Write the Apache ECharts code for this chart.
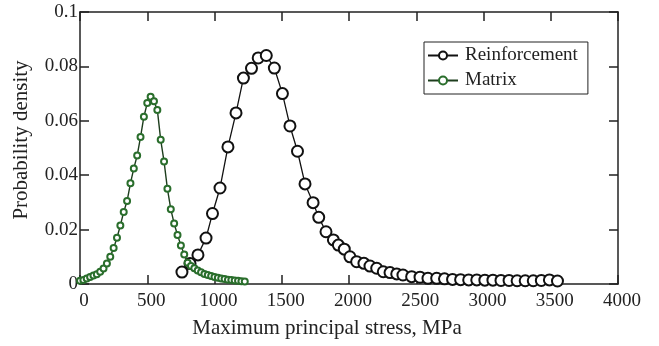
<!DOCTYPE html>
<html>
<head>
<meta charset="utf-8">
<script src="https://cdn.jsdelivr.net/npm/echarts@6/dist/echarts.min.js"></script>
<style>html,body{margin:0;padding:0;background:#fff;}#c{width:659px;height:346px;}</style>
</head>
<body>
<div id="c"></div>
<script>
var xTicks = [0, 500, 1000, 1500, 2000, 2500, 3000, 3500, 4000];
var yTicks = [0, 0.02, 0.04, 0.06, 0.08, 0.1];

var reinfX = [758, 818, 877, 937, 985, 1041, 1100, 1160, 1215, 1275, 1325, 1385, 1445, 1505, 1561, 1617,
  1673, 1733, 1775, 1829, 1884, 1921, 1965, 2007, 2057, 2111, 2156, 2206, 2255, 2305, 2355, 2401, 2466,
  2528, 2587, 2652, 2710, 2770, 2830, 2890, 2950, 3010, 3070, 3130, 3190, 3250, 3310, 3370, 3430, 3490, 3550];
var reinfY = [0.0044, 0.0075, 0.0107, 0.0169, 0.0259, 0.0353, 0.0504, 0.0629, 0.0757, 0.0793, 0.0831, 0.0840,
  0.0794, 0.0700, 0.0581, 0.0488, 0.0368, 0.0299, 0.0245, 0.0192, 0.0162, 0.0143, 0.0128, 0.0100, 0.0082,
  0.0076, 0.0066, 0.0058, 0.0045, 0.0042, 0.0037, 0.0033, 0.0027, 0.0025, 0.0021, 0.0021, 0.0019, 0.0017,
  0.0016, 0.0015, 0.0015, 0.0014, 0.0014, 0.0013, 0.0013, 0.0012, 0.0012, 0.0012, 0.0013, 0.0015, 0.0011];

var matrixX = [0, 25, 50, 75, 100, 125, 150, 175, 200, 225, 250, 275, 300, 325, 350, 375, 400, 425, 450, 475,
  500, 525, 550, 575, 600, 625, 650, 675, 700, 725, 750, 775, 800, 825, 850, 875, 900, 925, 950, 975,
  1000, 1025, 1050, 1075, 1100, 1125, 1150, 1175, 1200, 1225];
var matrixY = [0.0012, 0.0015, 0.0020, 0.0026, 0.0031, 0.0036, 0.0045, 0.0057, 0.0075, 0.0100, 0.0132, 0.0170,
  0.0215, 0.0265, 0.0305, 0.0370, 0.0425, 0.0472, 0.0540, 0.0615, 0.0665, 0.0688, 0.0672, 0.0640, 0.0530,
  0.0450, 0.0350, 0.0275, 0.0222, 0.0180, 0.0142, 0.0108, 0.0078, 0.0066, 0.0058, 0.0050, 0.0043, 0.0037,
  0.0033, 0.0029, 0.0026, 0.0023, 0.0020, 0.0018, 0.0016, 0.0015, 0.0013, 0.0012, 0.0010, 0.0009];

function pairs(xs, ys) { return xs.map(function (x, i) { return [x, ys[i]]; }); }

var FONT = 'Liberation Serif';
var axisCol = '#222';
var chart = echarts.init(document.getElementById('c'), null, { renderer: 'canvas' });
var baseX = {
  type: 'value', min: xTicks[0], max: xTicks[xTicks.length - 1], interval: 500,
  axisLine: { show: true, onZero: false, lineStyle: { color: axisCol, width: 1.5 } },
  axisTick: { show: true, inside: true, length: 9, lineStyle: { color: axisCol, width: 1.5 } },
  splitLine: { show: false }
};
var baseY = {
  type: 'value', min: yTicks[0], max: yTicks[yTicks.length - 1], interval: 0.02,
  axisLine: { show: true, onZero: false, lineStyle: { color: axisCol, width: 1.5 } },
  axisTick: { show: true, inside: true, length: 9, lineStyle: { color: axisCol, width: 1.5 } },
  splitLine: { show: false }
};
chart.setOption({
  animation: false,
  backgroundColor: '#fff',
  grid: { left: 80, right: 41, top: 12, bottom: 62, containLabel: false, outerBoundsMode: 'none' },
  legend: {
    left: 424, top: 42, orient: 'vertical',
    data: ['Reinforcement', 'Matrix'],
    backgroundColor: '#fff',
    borderColor: '#222', borderWidth: 1, borderRadius: 0,
    padding: [4, 10, 4, 3], itemGap: 6, itemWidth: 30, itemHeight: 10,
    textStyle: { fontFamily: FONT, fontSize: 19, color: '#222', padding: [0, 0, 0, 2] }
  },
  xAxis: [
    Object.assign({}, baseX, {
      position: 'bottom',
      name: 'Maximum principal stress, MPa', nameLocation: 'middle', nameGap: 34,
      nameTextStyle: { fontFamily: FONT, fontSize: 21, color: '#222', padding: [0, 44, 0, 0] },
      axisLabel: { show: true, fontFamily: FONT, fontSize: 19, color: '#222', margin: 8, padding: [0, 0, 0, 8],
        formatter: function (v) { return String(v); } }
    }),
    Object.assign({}, baseX, { position: 'top', axisLabel: { show: false } })
  ],
  yAxis: [
    Object.assign({}, baseY, {
      position: 'left',
      name: 'Probability density', nameLocation: 'middle', nameGap: 48,
      nameTextStyle: { fontFamily: FONT, fontSize: 21, color: '#222', padding: [0, 0, 0, 16] },
      axisLabel: { show: true, fontFamily: FONT, fontSize: 19, color: '#222', margin: 2,
        formatter: function (v) { return String(v); } }
    }),
    Object.assign({}, baseY, { position: 'right', axisLabel: { show: false } })
  ],
  series: [
    {
      name: 'Reinforcement', type: 'line', data: pairs(reinfX, reinfY),
      symbol: 'emptyCircle', symbolSize: 11, showAllSymbol: true,
      lineStyle: { color: '#111', width: 1.3 },
      itemStyle: { color: '#111', borderColor: '#111', borderWidth: 1.5 },
      z: 2
    },
    {
      name: 'Matrix', type: 'line', data: pairs(matrixX, matrixY),
      symbol: 'emptyCircle', symbolSize: 6, showAllSymbol: true,
      lineStyle: { color: '#1d3d1d', width: 1.4 },
      itemStyle: { color: '#2a6e2c', borderColor: '#2a6e2c', borderWidth: 1.6 },
      z: 3
    }
  ]
});
</script>
</body>
</html>
